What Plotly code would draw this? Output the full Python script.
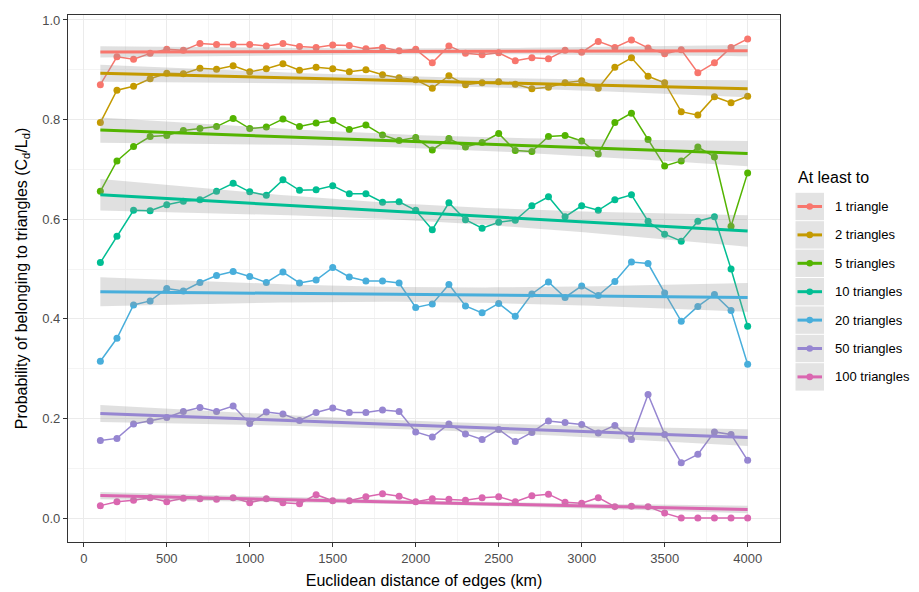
import numpy as np
import plotly.graph_objects as go

distance_km = list(range(100, 4001, 100))

series_names = ["1 triangle", "2 triangles", "5 triangles", "10 triangles",
                "20 triangles", "50 triangles", "100 triangles"]
series_colors = ["#F8766D", "#C49A00", "#53B400", "#00BE93",
                 "#48AEDB", "#9686D1", "#DA67B0"]

tri_1 = [0.870, 0.926, 0.921, 0.933, 0.941, 0.939, 0.953, 0.951, 0.951, 0.951,
         0.948, 0.953, 0.947, 0.945, 0.950, 0.949, 0.942, 0.945, 0.938, 0.941,
         0.914, 0.948, 0.933, 0.930, 0.934, 0.918, 0.924, 0.922, 0.939, 0.935,
         0.957, 0.945, 0.960, 0.944, 0.932, 0.940, 0.894, 0.914, 0.945, 0.962]
tri_2 = [0.794, 0.859, 0.867, 0.882, 0.893, 0.892, 0.903, 0.901, 0.908, 0.896,
         0.902, 0.912, 0.899, 0.905, 0.902, 0.896, 0.900, 0.890, 0.884, 0.880,
         0.863, 0.888, 0.870, 0.874, 0.876, 0.871, 0.862, 0.865, 0.874, 0.878,
         0.863, 0.905, 0.924, 0.887, 0.874, 0.816, 0.809, 0.846, 0.834, 0.847]
tri_5 = [0.656, 0.717, 0.746, 0.766, 0.768, 0.778, 0.782, 0.786, 0.802, 0.782,
         0.785, 0.801, 0.786, 0.793, 0.798, 0.780, 0.789, 0.769, 0.758, 0.764,
         0.739, 0.762, 0.745, 0.754, 0.772, 0.738, 0.736, 0.766, 0.768, 0.757,
         0.731, 0.794, 0.813, 0.760, 0.707, 0.717, 0.745, 0.725, 0.586, 0.693]
tri_10 = [0.513, 0.566, 0.618, 0.617, 0.629, 0.636, 0.639, 0.656, 0.672, 0.655,
          0.648, 0.679, 0.658, 0.659, 0.667, 0.651, 0.651, 0.634, 0.635, 0.618,
          0.579, 0.633, 0.599, 0.582, 0.594, 0.598, 0.627, 0.645, 0.605, 0.627,
          0.618, 0.639, 0.649, 0.596, 0.570, 0.556, 0.596, 0.605, 0.500, 0.385]
tri_20 = [0.315, 0.361, 0.428, 0.436, 0.461, 0.456, 0.473, 0.487, 0.495, 0.485,
          0.473, 0.494, 0.472, 0.478, 0.503, 0.484, 0.476, 0.476, 0.472, 0.423,
          0.430, 0.469, 0.426, 0.412, 0.431, 0.405, 0.450, 0.474, 0.443, 0.466,
          0.447, 0.475, 0.514, 0.511, 0.452, 0.395, 0.425, 0.449, 0.417, 0.309]
tri_50 = [0.156, 0.160, 0.189, 0.195, 0.202, 0.214, 0.222, 0.214, 0.225, 0.190,
          0.213, 0.209, 0.196, 0.212, 0.221, 0.212, 0.212, 0.217, 0.214, 0.173,
          0.163, 0.189, 0.169, 0.158, 0.178, 0.154, 0.172, 0.195, 0.192, 0.188,
          0.171, 0.186, 0.158, 0.248, 0.168, 0.111, 0.128, 0.173, 0.168, 0.116]
tri_100 = [0.025, 0.033, 0.036, 0.041, 0.033, 0.040, 0.039, 0.038, 0.041, 0.031,
           0.039, 0.031, 0.029, 0.047, 0.035, 0.035, 0.043, 0.049, 0.044, 0.033,
           0.039, 0.038, 0.036, 0.041, 0.043, 0.033, 0.045, 0.048, 0.032, 0.030,
           0.041, 0.023, 0.024, 0.023, 0.010, 0.000, 0.000, 0.000, 0.000, 0.000]

all_series = [tri_1, tri_2, tri_5, tri_10, tri_20, tri_50, tri_100]

x_ticks = [0, 500, 1000, 1500, 2000, 2500, 3000, 3500, 4000]
y_ticks = [0.0, 0.2, 0.4, 0.6, 0.8, 1.0]

fig = go.Figure()

# raw lines + points
for name, col, ys in zip(series_names, series_colors, all_series):
    fig.add_trace(go.Scatter(x=distance_km, y=ys, mode="lines+markers",
                             line=dict(color=col, width=1.5),
                             marker=dict(color=col, size=7),
                             showlegend=False, hoverinfo="x+y", name=name))

# linear fits with 95% CI (like geom_smooth(method="lm"))
x = np.array(distance_km, dtype=float)
xs = np.linspace(x.min(), x.max(), 80)
n = len(x)
tval = 2.0244
for name, col, ys in zip(series_names, series_colors, all_series):
    y = np.array(ys, dtype=float)
    b, a = np.polyfit(x, y, 1)
    resid = y - (a + b * x)
    s = np.sqrt(np.sum(resid ** 2) / (n - 2))
    se = s * np.sqrt(1.0 / n + (xs - x.mean()) ** 2 / np.sum((x - x.mean()) ** 2))
    fit = a + b * xs
    fig.add_trace(go.Scatter(x=xs, y=fit - tval * se, mode="lines",
                             line=dict(width=0, color="rgba(0,0,0,0)"),
                             showlegend=False, hoverinfo="skip"))
    fig.add_trace(go.Scatter(x=xs, y=fit + tval * se, mode="lines",
                             line=dict(width=0, color="rgba(0,0,0,0)"),
                             fill="tonexty", fillcolor="rgba(153,153,153,0.3)",
                             showlegend=False, hoverinfo="skip"))
    fig.add_trace(go.Scatter(x=xs, y=fit, mode="lines",
                             line=dict(color=col, width=3),
                             showlegend=False, hoverinfo="skip"))

# custom legend (ggplot style keys)
W, H = 919, 592
L, R, T, B = 68, 780, 15, 542
pw, ph = R - L, B - T


def px(xp):
    return (xp - L) / pw


def py(yp):
    return (B - yp) / ph


shapes = []
annotations = []
annotations.append(dict(x=px(796), y=py(177), xref="paper", yref="paper",
                        text="At least to", showarrow=False, xanchor="left",
                        yanchor="middle", font=dict(size=16, color="#000000")))
key_top = 192.3
key_h = 28.4
for i, (name, col) in enumerate(zip(series_names, series_colors)):
    top = key_top + i * key_h
    cy = top + key_h / 2
    shapes.append(dict(type="rect", xref="paper", yref="paper",
                       x0=px(795.5), x1=px(824), y0=py(top + 0.5), y1=py(top + key_h - 0.5),
                       fillcolor="#E3E3E3", line=dict(width=0), layer="above"))
    shapes.append(dict(type="line", xref="paper", yref="paper",
                       x0=px(797.5), x1=px(822), y0=py(cy), y1=py(cy),
                       line=dict(color=col, width=3), layer="above"))
    shapes.append(dict(type="circle", xref="paper", yref="paper",
                       x0=px(806.5), x1=px(813), y0=py(cy - 3.3), y1=py(cy + 3.3),
                       fillcolor=col, line=dict(width=0), layer="above"))
    annotations.append(dict(x=px(833), y=py(cy), xref="paper", yref="paper",
                            text=name, showarrow=False, xanchor="left",
                            yanchor="middle", font=dict(size=13, color="#000000")))

fig.update_layout(
    width=W, height=H,
    margin=dict(l=L, r=W - R, t=T, b=H - B, pad=0, autoexpand=False),
    paper_bgcolor="white", plot_bgcolor="white",
    font=dict(family="Liberation Sans, Arial, sans-serif", color="#000000"),
    shapes=shapes, annotations=annotations,
    showlegend=False,
)
fig.update_xaxes(
    range=[-95, 4195], tickvals=x_ticks, ticktext=[str(v) for v in x_ticks],
    automargin=False,
    showgrid=True, gridcolor="#EBEBEB", gridwidth=1.1,
    minor=dict(showgrid=True, gridcolor="#F4F4F4", gridwidth=0.6, dtick=250, tick0=0),
    showline=True, linecolor="#333333", linewidth=1.2, mirror=True,
    ticks="outside", ticklen=4, tickcolor="#333333", tickwidth=1,
    tickfont=dict(size=13, color="#4D4D4D"), zeroline=False,
    title=dict(text="Euclidean distance of edges (km)", font=dict(size=16), standoff=10),
)
fig.update_yaxes(
    range=[-0.048, 1.010], tickvals=y_ticks, ticktext=[f"{v:.1f}" for v in y_ticks],
    automargin=False,
    showgrid=True, gridcolor="#EBEBEB", gridwidth=1.1,
    minor=dict(showgrid=True, gridcolor="#F4F4F4", gridwidth=0.6, dtick=0.1, tick0=0),
    showline=True, linecolor="#333333", linewidth=1.2, mirror=True,
    ticks="outside", ticklen=4, tickcolor="#333333", tickwidth=1,
    tickfont=dict(size=13, color="#4D4D4D"), zeroline=False,
    title=dict(text="Probability of belonging to triangles (C<sub>d</sub>/L<sub>d</sub>)",
               font=dict(size=16), standoff=10),
)

fig.write_html("out.html")
